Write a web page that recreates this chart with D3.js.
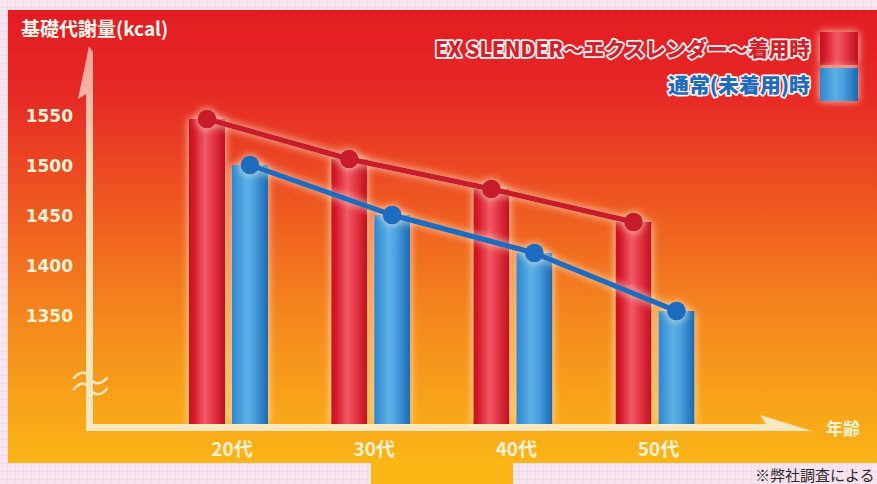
<!DOCTYPE html>
<html><head><meta charset="utf-8">
<script src="https://cdn.jsdelivr.net/npm/d3@7/dist/d3.min.js"></script>
<style>
html,body{margin:0;padding:0;background:#f7e4ef;}
svg{display:block;}
</style></head>
<body>
<svg id="c" width="877" height="484"></svg>
<script>
const categories = ["20代", "30代", "40代", "50代"];
const seriesNames = ["EX SLENDER～エクスレンダー～着用時", "通常(未着用)時"];
const exSlender = [1546, 1506, 1476, 1443];
const normal = [1500, 1450, 1412, 1354];
const yTicks = [1350, 1400, 1450, 1500, 1550];
const yTitle = "基礎代謝量(kcal)";
const xTitle = "年齢";
const footnote = "※弊社調査による";

const svg = d3.select("#c");
const defs = svg.append("defs");
const JP = "'Noto Sans CJK JP','DejaVu Sans',sans-serif";
const NUM = "'DejaVu Sans','Noto Sans CJK JP',sans-serif";

// pink grid pattern
const pat = defs.append("pattern").attr("id","grid").attr("width",8).attr("height",8).attr("patternUnits","userSpaceOnUse");
pat.append("rect").attr("width",8).attr("height",8).attr("fill","#f7e4ef");
pat.append("path").attr("d","M8 0V8M0 8H8").attr("stroke","#ecd3e2").attr("stroke-width",1);

// background gradient
const bg = defs.append("linearGradient").attr("id","bg").attr("x1",0).attr("y1",0).attr("x2",0).attr("y2",1);
[["0%","#e31c24"],["18%","#e52825"],["42%","#ee5621"],["68%","#f4881d"],["100%","#fab517"]]
  .forEach(([o,c])=>bg.append("stop").attr("offset",o).attr("stop-color",c));

function cyl(id, stops){
  const g = defs.append("linearGradient").attr("id",id).attr("x1",0).attr("y1",0).attr("x2",1).attr("y2",0);
  stops.forEach(([o,c])=>g.append("stop").attr("offset",o).attr("stop-color",c));
}
cyl("redBar", [["0%","#c3101f"],["15%","#d81c2c"],["45%","#f05a66"],["65%","#e73a48"],["100%","#c01020"]]);
cyl("blueBar", [["0%","#2f86cf"],["40%","#5bb0e6"],["60%","#4aa2de"],["100%","#1d68b3"]]);

// glow filter
const f = defs.append("filter").attr("id","glow").attr("x","-40%").attr("y","-40%").attr("width","180%").attr("height","180%");
f.append("feGaussianBlur").attr("in","SourceAlpha").attr("stdDeviation",4).attr("result","b");
f.append("feFlood").attr("flood-color","#fff4d8").attr("flood-opacity",0.85).attr("result","c");
f.append("feComposite").attr("in","c").attr("in2","b").attr("operator","in").attr("result","g");
const fm = f.append("feMerge");
fm.append("feMergeNode").attr("in","g");
fm.append("feMergeNode").attr("in","SourceGraphic");

const axisCol = "#fbe7bd";

svg.append("rect").attr("width",877).attr("height",484).attr("fill","url(#grid)");
svg.append("rect").attr("x",8).attr("y",10).attr("width",869).attr("height",453).attr("fill","url(#bg)");
svg.append("rect").attr("x",371).attr("y",460).attr("width",142).attr("height",24).attr("fill","#fbb716");

// scales
const x0 = d3.scalePoint().domain(categories).range([228.5, 655]);
const x1 = d3.scaleBand().domain(seriesNames).range([-39.5, 39.5]).paddingInner(0.163);
const y = d3.scaleLinear().domain([1350, 1550]).range([315, 115]);
const baseY = 424;

// axes decorations (arrows)
const yArrowGrad = defs.append("linearGradient").attr("id","yArrow").attr("x1",0).attr("y1",0).attr("x2",0).attr("y2",1);
yArrowGrad.append("stop").attr("offset","0%").attr("stop-color","#f7c0b8").attr("stop-opacity",0.8);
yArrowGrad.append("stop").attr("offset","30%").attr("stop-color",axisCol).attr("stop-opacity",0.9);
yArrowGrad.append("stop").attr("offset","100%").attr("stop-color",axisCol).attr("stop-opacity",1);
svg.append("path").attr("fill","url(#yArrow)")
  .attr("d","M89,46 L93,52 L93,431 L86,431 L86,94 L78,99 Z");
svg.append("path").attr("fill",axisCol)
  .attr("d","M86,424 L766,424 L760,415 L812,431 L86,431 Z");

// y ticks
const yAxis = svg.append("g").attr("transform","translate(73,0)")
  .call(d3.axisLeft(y).tickValues(yTicks).tickSize(0).tickPadding(0).tickFormat(d3.format("d")));
yAxis.select(".domain").remove();
yAxis.selectAll("text").attr("fill","#fdf1d6").attr("font-family",NUM).attr("font-weight","bold").attr("font-size",17).attr("dy","0.36em");

// break mark (two wavy strokes)
const wave = (yy)=>`M74,${yy} C80,${yy-7} 86,${yy-7} 90,${yy} S101,${yy+7} 107,${yy}`;
svg.append("path").attr("d", wave(378)+" "+wave(389)).attr("fill","none")
  .attr("stroke",axisCol).attr("stroke-width",2.6).attr("stroke-linecap","round");

// x axis labels
const xAxis = svg.append("g").attr("transform","translate(3,449)")
  .call(d3.axisBottom(x0).tickSize(0).tickPadding(0));
xAxis.select(".domain").remove();
xAxis.selectAll("text").attr("y",0).attr("dy","0.36em").attr("fill","#fdf1d6")
  .attr("font-family",JP).attr("font-weight","bold").attr("font-size",19);

// bars
const seriesVals = [exSlender, normal];
const fills = ["url(#redBar)", "url(#blueBar)"];
const lineCols = ["#c81d2b", "#1f6cbf"];
const barG = svg.append("g").attr("filter","url(#glow)");
seriesNames.forEach((s,si)=>{
  barG.selectAll(null).data(categories).enter().append("rect")
    .attr("x", (c)=>x0(c)+x1(s))
    .attr("width", x1.bandwidth())
    .attr("y", (c,i)=>y(seriesVals[si][i]))
    .attr("height", (c,i)=>baseY - y(seriesVals[si][i]))
    .attr("fill", fills[si]);
});

// lines + points
const lineG = svg.append("g").attr("filter","url(#glow)");
seriesNames.forEach((s,si)=>{
  const pts = categories.map((c,i)=>[x0(c)+x1(s)+x1.bandwidth()/2, y(seriesVals[si][i])]);
  lineG.append("path").attr("d", d3.line()(pts)).attr("fill","none")
    .attr("stroke", lineCols[si]).attr("stroke-width",5.5).attr("stroke-linejoin","round");
  lineG.selectAll(null).data(pts).enter().append("circle")
    .attr("cx",d=>d[0]).attr("cy",d=>d[1]).attr("r",9.5).attr("fill",lineCols[si]);
});

// titles
svg.append("text").attr("x",21).attr("y",36).attr("font-family",JP).attr("font-weight","bold")
  .attr("font-size",19).attr("fill","#fff4ea").attr("stroke","#c0303a").attr("stroke-width",0.6)
  .attr("paint-order","stroke").text(yTitle);
svg.append("text").attr("x",826).attr("y",435).attr("font-family",JP).attr("font-weight","bold")
  .attr("font-size",17).attr("fill","#fdf1d6").text(xTitle);
svg.append("text").attr("x",755).attr("y",481).attr("font-family",JP)
  .attr("font-size",15).attr("fill","#2a2a2a").text(footnote);

// legend
const legG = svg.append("g");
const legY = [32, 68];
const legText = ["#d11f2c", "#1e6bbd"];
const legBase = [57, 93];
const legW = [375, 142];
seriesNames.forEach((s,si)=>{
  legG.append("rect").attr("x",820).attr("y",legY[si]).attr("width",38).attr("height",33)
    .attr("fill",fills[si]).attr("filter","url(#glow)");
  legG.append("text").attr("x",810).attr("y",legBase[si]).attr("text-anchor","end")
    .attr("font-family",JP).attr("font-weight","900").attr("font-size",20.5)
    .attr("textLength",legW[si]).attr("lengthAdjust","spacingAndGlyphs")
    .attr("fill",legText[si]).attr("stroke","#fff2f2").attr("stroke-width",3.4)
    .attr("stroke-linejoin","round").attr("paint-order","stroke").text(s);
});
</script>
</body></html>
